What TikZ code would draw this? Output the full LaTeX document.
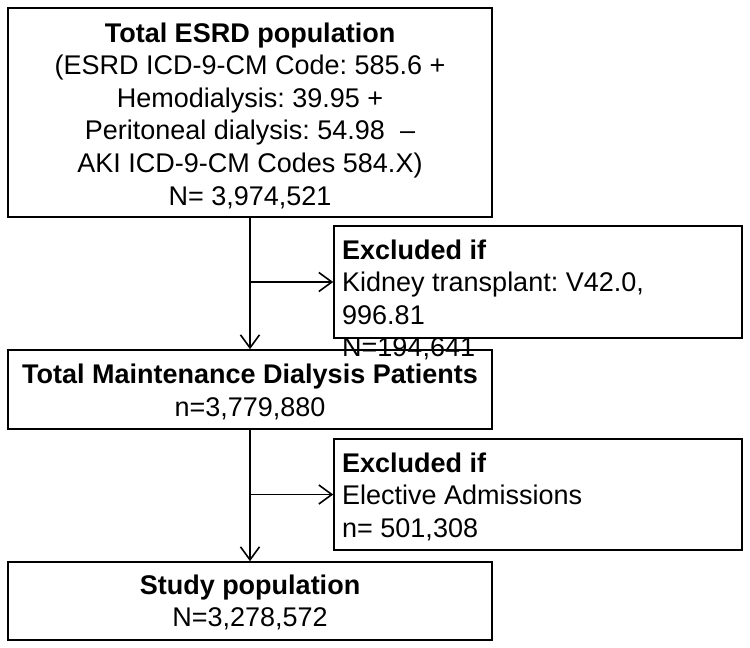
\documentclass[tikz,border=0pt]{standalone}
\usepackage{fontspec}
\setmainfont{Liberation Sans}
\frenchspacing
\usetikzlibrary{arrows.meta}
\begin{document}
\begin{tikzpicture}[x=1pt,y=-1pt,
  box/.style={draw, line width=1.6pt, inner sep=0pt},
  ctxt/.style={inner sep=0pt, align=center, anchor=north, font=\fontsize{27}{32.6}\selectfont},
  ltxt/.style={inner sep=0pt, align=left, anchor=north west, font=\fontsize{27}{32.6}\selectfont},
  arr/.style={line width=1.6pt, -{Straight Barb[length=13pt,width=19pt]}}]
\useasboundingbox (0,0) rectangle (750,648);
% boxes
\node[box, minimum width=484pt, minimum height=209pt] (b1) at (250,112.5) {};
\node[box, minimum width=484pt, minimum height=79pt] (b2) at (250,389.5) {};
\node[box, minimum width=484pt, minimum height=78pt] (b3) at (250,601) {};
\node[box, minimum width=408pt, minimum height=112pt] (e1) at (538,282) {};
\node[box, minimum width=408pt, minimum height=111pt] (e2) at (538,494.5) {};
% connectors
\draw[arr] (b1.south) -- (b2.north);
\draw[arr] (b1.south |- e1.west) -- (e1.west);
\draw[arr] (b2.south) -- (b3.north);
\draw[arr] (b2.south |- e2.west) -- (e2.west);
% texts
\node[ctxt] (t1) at (250,22.3) {\textbf{Total ESRD population}\\(ESRD ICD-9-CM Code: 585.6 +\\Hemodialysis: 39.95 +\\Peritoneal dialysis: 54.98\ \ –\\AKI ICD-9-CM Codes 584.X)\\N= 3,974,521};
\node[ctxt] (t2) at (250,363.8) {\textbf{Total Maintenance Dialysis Patients}\\n=3,779,880};
\node[ctxt] (t3) at (250,574.3) {\textbf{Study population}\\N=3,278,572};
\node[ltxt] (te1) at (342,239.3) {\textbf{Excluded if}\\Kidney transplant: V42.0,\\996.81\\N=194,641};
\node[ltxt] (te2) at (342,452.3) {\textbf{Excluded if}\\Elective Admissions\\n= 501,308};
\end{tikzpicture}
\end{document}
